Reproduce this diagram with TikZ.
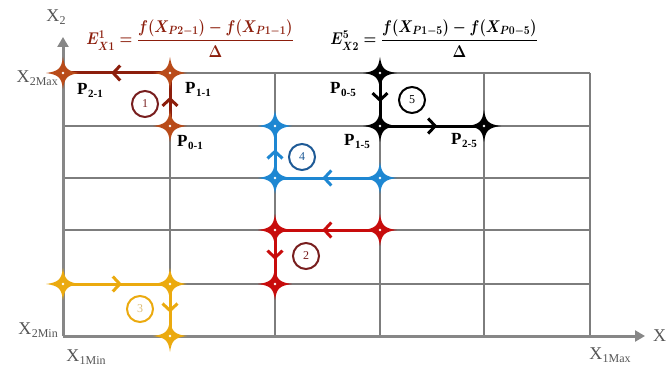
\RequirePackage{fix-cm}
\documentclass[tikz,border=0pt]{standalone}
\usepackage{amsmath,amssymb,graphicx}
\usepackage{fontspec}
\setmainfont{Liberation Serif}
\usetikzlibrary{arrows.meta,positioning,calc,decorations.markings}

\definecolor{gridgray}{RGB}{125,125,125}
\definecolor{axgray}{RGB}{135,135,135}
\definecolor{txtgray}{RGB}{85,85,85}
\definecolor{brownA}{RGB}{140,30,12}
\definecolor{brownS}{RGB}{185,75,25}
\definecolor{circA}{RGB}{120,30,30}
\definecolor{redB}{RGB}{200,12,12}
\definecolor{goldC}{RGB}{235,170,15}
\definecolor{goldT}{RGB}{222,190,120}
\definecolor{blueD}{RGB}{30,135,210}
\definecolor{blueN}{RGB}{30,90,150}

\newcommand{\plab}[1]{\textbf{P\kern0.5pt\raisebox{-3pt}{\fontsize{11}{11}\selectfont #1}}}
\newcommand{\xlab}[1]{X\kern0.3pt\raisebox{-3pt}{\fontsize{12}{12}\selectfont #1}}
\newcommand{\narroweq}[1]{\scalebox{0.86}[1]{$#1$}}

\begin{document}
\begin{tikzpicture}[x=1pt,y=-1pt,
  grid/.style={draw=gridgray,line width=2.8pt},
  axis/.style={draw=axgray,line width=3pt,-{Triangle[length=10pt,width=11pt]}},
  route/.style={color=#1,line width=3pt,postaction={decorate},
                decoration={markings,mark=at position 0.55 with
                {\arrow{Straight Barb[length=7pt,width=15pt]}}}},
  star/.pic={\fill (17,0) .. controls (4.5,1.6) and (1.6,4.5) .. (0,16)
                 .. controls (-1.6,4.5) and (-4.5,1.6) .. (-17,0)
                 .. controls (-4.5,-1.6) and (-1.6,-4.5) .. (0,-16)
                 .. controls (1.6,-4.5) and (4.5,-1.6) .. cycle;
             \fill[white] (0,0) circle (1.4);},
  num/.style={circle,draw=#1,line width=2pt,minimum size=26pt,
              inner sep=0pt,font=\fontsize{12}{12}\selectfont},
  plabel/.style={font=\fontsize{17}{17}\selectfont,inner sep=0pt},
  xlabel/.style={font=\fontsize{18}{18}\selectfont,text=txtgray,inner sep=0pt},
  eq/.style={font=\fontsize{17}{20}\selectfont\boldmath,inner sep=0pt,anchor=base}]
\useasboundingbox (0,0) rectangle (667,369);
%%
%% Grid
\foreach \gx in {63,170,275,380,484,590}
  \draw[grid] (\gx,73) -- (\gx,336);
\foreach \gy in {73,126,178,230,284,336}
  \draw[grid] (63,\gy) -- (590,\gy);
%%
%% Axes
\coordinate (org) at (63,336);
\coordinate (ytop) at (63,37);
\coordinate (xend) at (645,336);
\draw[axis] (org) -- (ytop);
\draw[axis] (org) -- (xend);
%%
%% Points of the routes
\coordinate (p01) at (170,126);
\coordinate (p11) at (170,73);
\coordinate (p21) at (63,73);
\coordinate (q2a) at (380,230);
\coordinate (q2b) at (275,230);
\coordinate (q2c) at (275,284);
\coordinate (q3a) at (63,284);
\coordinate (q3b) at (170,284);
\coordinate (q3c) at (170,336);
\coordinate (q4a) at (380,178);
\coordinate (q4b) at (275,178);
\coordinate (q4c) at (275,126);
\coordinate (p05) at (380,73);
\coordinate (p15) at (380,126);
\coordinate (p25) at (484,126);
%%
%% Route 1 (P0-1 -> P1-1 -> P2-1)
\draw[route=brownA] (p01) -- (p11);
\draw[route=brownA] (p11) -- (p21);
%% Route 2
\draw[route=redB] (q2a) -- (q2b);
\draw[route=redB] (q2b) -- (q2c);
%% Route 3
\draw[route=goldC] (q3a) -- (q3b);
\draw[route=goldC] (q3b) -- (q3c);
%% Route 4
\draw[route=blueD] (q4a) -- (q4b);
\draw[route=blueD] (q4b) -- (q4c);
%% Route 5 (P0-5 -> P1-5 -> P2-5)
\draw[route=black] (p05) -- (p15);
\draw[route=black] (p15) -- (p25);
%%
%% Stars on the points
\foreach \pt in {p01,p11,p21} \pic[brownS] at (\pt) {star};
\foreach \pt in {q2a,q2b,q2c} \pic[redB] at (\pt) {star};
\foreach \pt in {q3a,q3b,q3c} \pic[goldC] at (\pt) {star};
\foreach \pt in {q4a,q4b,q4c} \pic[blueD] at (\pt) {star};
\foreach \pt in {p05,p15,p25} \pic[black] at (\pt) {star};
%%
%% Route numbers
\node[num=circA,text=circA] (c1) at (145,104) {1};
\node[num=circA,text=circA] (c2) at (306,256) {2};
\node[num=goldC,text=goldT] (c3) at (140,309) {3};
\node[num=blueN,text=blueN] (c4) at (302,157) {4};
\node[num=black] (c5) at (412,100) {5};
%%
%% Point labels
\node[plabel] (l21) at (90,90)  {\plab{2-1}};
\node[plabel] (l11) at (198,89) {\plab{1-1}};
\node[plabel] (l01) at (190,142) {\plab{0-1}};
\node[plabel] (l05) at (343,89) {\plab{0-5}};
\node[plabel] (l15) at (357,141) {\plab{1-5}};
\node[plabel] (l25) at (464,140) {\plab{2-5}};
%%
%% Axis labels
\node[xlabel] (x2) at (56,17) {\xlab{2}};
\node[xlabel,anchor=east] (x2max) at (58,78) {\xlab{2Max}};
\node[xlabel,anchor=east] (x2min) at (58,330) {\xlab{2Min}};
\node[xlabel] (x1min) at (86,357) {\xlab{1Min}};
\node[xlabel] (x1max) at (610,355) {\xlab{1Max}};
\node[xlabel,anchor=west] (x1) at (653,336) {X};
%%
%% Formulas
\node[eq,text=brownA] (eq1) at (190,45)
  {\narroweq{E^{1}_{X1} = \dfrac{f(X_{P2-1})-f(X_{P1-1})}{\Delta}}};
\node[eq] (eq5) at (434,45)
  {\narroweq{E^{5}_{X2} = \dfrac{f(X_{P1-5})-f(X_{P0-5})}{\Delta}}};
\end{tikzpicture}
\end{document}
